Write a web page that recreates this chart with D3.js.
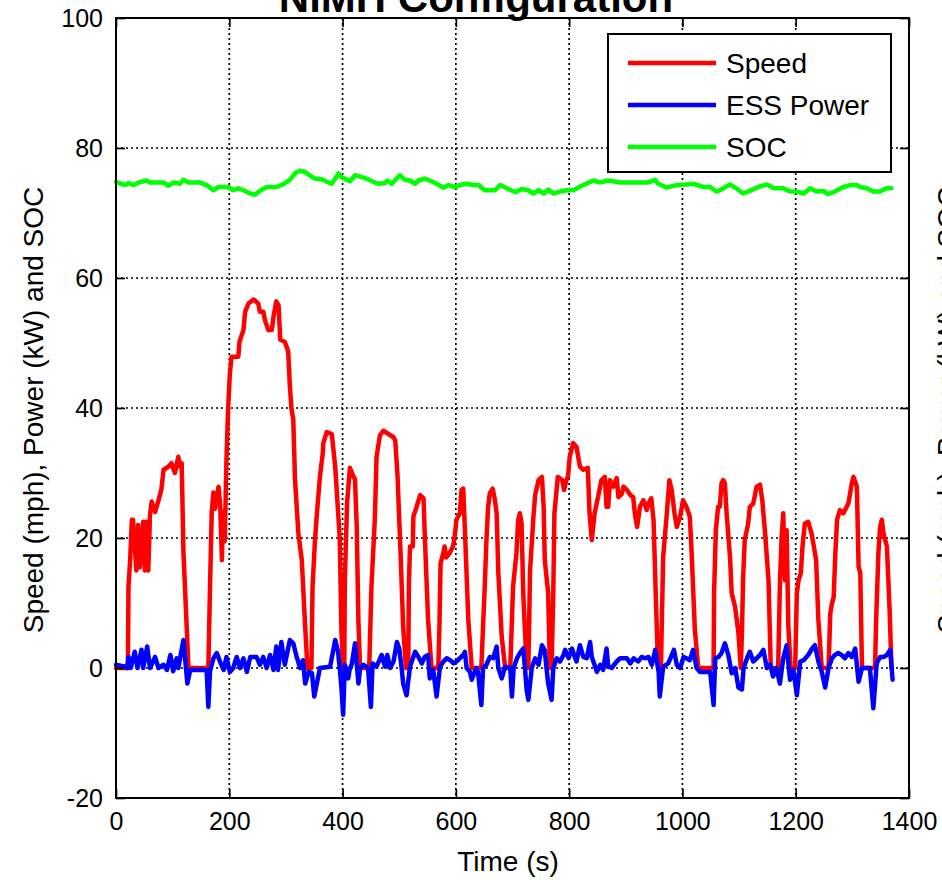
<!DOCTYPE html>
<html>
<head>
<meta charset="utf-8">
<script src="https://cdn.jsdelivr.net/npm/d3@7"></script>
<style>
  html, body { margin: 0; padding: 0; background: #fff; }
  svg { display: block; }
  text { font-family: "Liberation Sans", Arial, sans-serif; fill: #000; }
</style>
</head>
<body>
<svg id="chart" width="942" height="880"></svg>
<script>
// ---------- DATA ----------
const chartTitle = "NiMH Configuration";
const xLabel = "Time (s)";
const yLabel = "Speed (mph),  Power (kW) and SOC";
const seriesNames = ["Speed", "ESS Power", "SOC"];
const seriesColors = ["#ff0000", "#0000ff", "#00ff00"];
const xTicks = [0, 200, 400, 600, 800, 1000, 1200, 1400];
const yTicks = [-20, 0, 20, 40, 60, 80, 100];

const speedTime = [0,21,22,25,28,30,36,39,42,48,51,54,57,60,63,69,75,80,84,93,98,104,110,113,116,119,125,128,163,166,169,172,175,181,184,187,189,192,195,198,201,204,216,218,225,228,234,243,251,254,260,263,269,275,278,283,287,290,298,304,307,310,313,316,322,328,334,338,345,347,351,354,360,365,366,372,381,387,395,398,401,403,404,408,413,419,422,425,428,431,447,451,457,460,466,472,490,493,497,502,507,512,516,517,519,524,525,530,537,543,545,551,557,569,571,573,578,580,583,589,595,598,601,607,610,613,616,622,628,645,648,651,654,657,660,665,669,672,675,681,687,696,698,701,707,710,713,716,719,725,728,731,737,740,746,752,755,757,763,766,769,772,774,780,788,791,795,798,801,807,813,819,825,833,836,840,845,851,857,863,866,869,872,878,884,887,893,896,902,908,913,916,920,925,931,937,940,945,949,953,957,962,966,972,977,981,986,990,996,1001,1007,1013,1016,1022,1028,1055,1056,1059,1063,1066,1069,1072,1075,1078,1084,1087,1093,1099,1103,1105,1107,1110,1116,1119,1125,1131,1137,1141,1146,1152,1156,1169,1172,1175,1178,1181,1184,1187,1191,1199,1202,1205,1209,1212,1216,1222,1228,1231,1236,1240,1246,1258,1261,1264,1267,1270,1273,1278,1284,1287,1293,1299,1302,1308,1311,1314,1317,1340,1342,1346,1349,1352,1355,1361,1366,1369];
const speedValue = [0,0,12.5,16.6,22.8,22.8,15,22,15.5,22.5,15,22.5,15,23.5,25.6,24,25.8,27.4,30.5,31,31.5,30,32.5,31,31.5,18,5.9,0,0,12.5,24,27,24.5,27.9,25,16.6,24,19.5,32,40,45.3,47.9,47.9,50.2,52,54.8,56.1,56.7,56.1,54.8,54.8,53.5,52,52,54,56.4,55.8,50.5,50.2,48.7,43.3,39.7,38.2,29,20.7,16.6,6.3,0,0,12.5,19.2,23,29.4,33,34.6,36.3,36,31,20,5.7,0,0,13.5,25.4,30.8,29.5,29,21.8,7,0,0,12.5,23,32.5,35.8,36.5,35.5,35,29.6,18.6,6.3,0,0,12.5,18.7,18.7,23.3,24.6,26.6,26.1,20.7,7.4,0,0,6.4,16.1,17.7,18.7,17,17.7,18.7,20.2,22.8,23.8,27.4,27.6,21.2,7.4,0,0,6.4,12.5,19.7,24.8,26.9,27.6,25.8,23.8,14.6,4.8,0,0,4.9,12.5,17.7,22.8,23.8,22.3,11.5,0,0,15,23.3,26.6,28.9,29.4,24.8,16.6,11.5,0,0,11.5,23.8,29.4,28.9,27.4,28.9,29.4,32.5,34.6,34,31,30.5,30.8,23.8,19.7,23.8,26.3,28.9,29.4,24.8,24.8,28.9,27.9,29.2,26.3,26.8,27.9,27.4,26.6,26.3,23.8,21.7,24.8,25.8,24.3,25.3,26.1,22.8,11,0,0,17.1,23.3,28.9,27.4,23.8,21.7,23.3,25.8,24.8,23.3,18.2,5.8,0,0,12,21.2,24.8,24.8,28.4,28.9,28.4,23.8,17.1,11.5,9.4,5.3,0,5.3,13.5,19.7,22.2,24.8,25.3,27.9,28.2,25.8,20.7,13.5,0,0,12.5,20,23.8,13.5,21.2,6.4,0,0,11.5,13.5,14.6,18.7,22.2,22.5,20.7,19.2,16.6,7.4,0,0,8.4,9.9,10.9,17.7,22.8,24.3,23.8,24.3,25.3,28.4,29.4,27.9,15.6,14.6,0,0,7.4,17.7,21.7,22.8,20.7,18.7,8.4,0];

const powerTime = [0,10,18,20,22,26,33,38,45,48,55,60,69,75,84,90,96,101,107,110,119,123,126,131,160,163,166,172,178,184,190,195,201,207,213,219,225,231,237,243,248,254,260,266,272,278,283,286,292,298,307,313,319,325,330,334,340,346,350,360,378,387,392,395,398,401,404,410,413,416,422,428,431,437,445,450,453,460,469,475,479,484,490,496,500,504,507,513,519,528,534,540,545,551,554,560,566,572,578,584,590,596,601,607,613,616,619,625,628,636,639,645,648,654,660,666,672,675,681,687,696,699,702,708,713,719,722,725,728,734,740,746,752,757,760,763,769,772,778,784,790,793,799,805,810,813,819,825,831,837,840,846,849,855,860,866,869,875,884,890,896,902,908,914,922,928,934,940,946,952,958,960,966,975,985,990,996,1002,1007,1013,1019,1025,1031,1037,1049,1055,1058,1064,1069,1075,1081,1087,1093,1099,1105,1108,1114,1119,1125,1131,1137,1143,1149,1155,1160,1166,1172,1178,1184,1190,1196,1202,1208,1214,1222,1229,1234,1240,1246,1252,1258,1264,1269,1275,1281,1287,1293,1299,1305,1311,1317,1323,1331,1337,1343,1349,1355,1361,1367,1371];
const powerValue = [0.5,0.3,0.2,0,1.7,0,2.5,0,2.8,0,3.3,0,1.7,0,0.5,-0.3,2,-0.5,1.5,0,4.3,0.5,-2.4,-0.3,-0.3,-6,-0.5,1.5,2.3,0.9,-0.3,1.7,-0.6,0,1.7,0,1.5,-0.6,1.7,1.7,1.7,0.5,1.7,0,2,-0.3,3.3,-0.3,4,0.5,4.3,3.8,1.7,0,1.2,-2.4,-0.6,-0.8,-4.4,0,0.2,4.3,2.5,0,-3,-7.2,0.5,-1.6,0,0.5,3.8,-2.4,0,0.5,0,-6,0.7,0.2,2,0.2,2,0,1,4,3,0.2,-2.4,-4.2,0.2,2.5,1.7,0.7,1.7,2,-1.6,-0.3,-4.4,0.2,1,1.5,1.2,0.7,1,1.5,2,2.5,0,-0.6,-1.8,0,-0.6,-5.7,0,0.5,1.7,1.5,3.3,0,-1.6,0.2,0,-4.4,0,1.5,2.3,3,0,-3.4,-4.9,0,1.5,0.5,3.5,2.7,0,-2.4,-4.9,0,1.5,1,2,2.8,1.5,3,1.7,1,3.5,1.7,1.5,4,1.7,0.2,-0.6,0.5,-0.3,3,0.2,0,1,1.5,1.5,1.5,0.7,1.5,1,1.7,1.5,1.7,0.5,2.8,-0.6,-4.4,0.2,0.7,2.8,0.5,0,1.7,1.5,1.2,2.8,0,-0.6,-0.6,-0.6,-5.7,1.5,1.7,2.3,3.8,2,-0.8,0,-3,-3.3,0,1.5,2.5,1,1.5,2,2.8,0,0.5,-1.3,0,-2.4,1.5,3.5,-1.8,-0.3,-4.2,1,1.2,2,3,3.5,1,-0.6,-3,0,1.5,2,2.3,2,1.5,2.3,1.7,3,-2.1,0,0,0,-6.2,0.7,1.7,1.7,2,2.8,-1.8];

const socTime = [0,16,22,31,40,54,60,84,92,102,113,119,128,148,160,172,181,198,207,216,225,234,245,254,266,283,295,307,316,325,334,342,351,363,372,381,393,398,413,422,431,442,454,463,475,479,487,501,510,519,528,534,545,554,566,578,587,598,607,619,631,640,651,669,678,690,705,716,728,737,746,755,763,772,784,796,807,825,843,854,869,890,907,925,940,952,957,972,989,1007,1019,1037,1049,1060,1066,1084,1095,1107,1119,1134,1149,1161,1178,1190,1202,1214,1225,1237,1249,1257,1269,1284,1296,1308,1313,1325,1337,1349,1360,1369];
const socValue = [74.8,74.3,74.6,74.3,74.7,75,74.7,74.7,74.2,74.7,74.5,75.1,74.7,74.7,74.3,73.5,74,74,73.5,73.8,73.5,73.1,72.8,73.4,74,74,74.4,75.1,76.1,76.5,76.3,75.8,75.3,75.2,74.8,74.5,76.1,75.5,74.9,75.8,75.6,75.3,74.8,74.5,74.6,75,74.5,75.8,75.1,75,74.5,75,75.3,75,74.5,73.9,74.3,74,74.3,74.5,74.3,74.3,73.5,73.5,74.3,73.8,73.2,73.7,73.5,73,73.5,73,73.6,73,73.3,73.5,73.5,74.3,75,74.7,75,74.7,74.7,74.7,74.7,75.1,74.5,73.9,74.3,74.4,74.5,74,74,73.3,73.5,74.4,73.8,73,73.4,74,74.4,73.8,73.8,73.3,73.3,73,73.8,73.3,73.4,72.9,73.3,74,74.3,74.3,74,73.8,73.3,73.3,73.8,73.8];

// ---------- CHART ----------
const svg = d3.select("#chart");
const pLeft = 116, pRight = 909, pTop = 18, pBottom = 798;
const x = d3.scaleLinear().domain([0, 1400]).range([pLeft, pRight]);
const y = d3.scaleLinear().domain([-20, 100]).range([pBottom, pTop]);

// grid
const grid = svg.append("g");
grid.selectAll("line.vg").data(xTicks.slice(1, -1)).enter().append("line")
  .attr("x1", d => x(d)).attr("x2", d => x(d)).attr("y1", pTop).attr("y2", pBottom)
  .attr("stroke", "#000").attr("stroke-width", 1.7).attr("stroke-dasharray", "2,3");
grid.selectAll("line.hg").data(yTicks.slice(1, -1)).enter().append("line")
  .attr("x1", pLeft).attr("x2", pRight).attr("y1", d => y(d)).attr("y2", d => y(d))
  .attr("stroke", "#000").attr("stroke-width", 1.7).attr("stroke-dasharray", "2,3");

// series
const mk = (t, v) => t.map((d, i) => [d, v[i]]).filter(d => d[1] !== undefined);
const data = [mk(speedTime, speedValue), mk(powerTime, powerValue), mk(socTime, socValue)];
const line = d3.line().x(d => x(d[0])).y(d => y(d[1]));
data.forEach((ser, i) => {
  svg.append("path").datum(ser).attr("d", line)
    .attr("fill", "none").attr("stroke", seriesColors[i])
    .attr("stroke-width", 4.5).attr("stroke-linejoin", "round").attr("stroke-linecap", "round");
});

// axes
const fs = 25;
const fmt = d => String(d);
const ax = svg.append("g").attr("transform", `translate(0,${pBottom})`)
  .call(d3.axisBottom(x).tickValues(xTicks).tickSize(-9).tickPadding(14).tickFormat(fmt));
const ay = svg.append("g").attr("transform", `translate(${pLeft},0)`)
  .call(d3.axisLeft(y).tickValues(yTicks).tickSize(-9).tickPadding(13).tickFormat(fmt));
const at = svg.append("g").attr("transform", `translate(0,${pTop})`)
  .call(d3.axisTop(x).tickValues(xTicks).tickSize(-9).tickFormat(""));
const ar = svg.append("g").attr("transform", `translate(${pRight},0)`)
  .call(d3.axisRight(y).tickValues(yTicks).tickSize(-9).tickFormat(""));
[ax, ay, at, ar].forEach(g => {
  g.select(".domain").remove();
  g.selectAll(".tick line").attr("stroke", "#000").attr("stroke-width", 1.7);
  g.selectAll("text").style("font-size", fs + "px").style("font-family", "'Liberation Sans', Arial, sans-serif").attr("fill", "#000");
});
svg.append("rect").attr("x", pLeft).attr("y", pTop).attr("width", pRight - pLeft).attr("height", pBottom - pTop)
  .attr("fill", "none").attr("stroke", "#000").attr("stroke-width", 2);

// labels
svg.append("text").attr("x", 508).attr("y", 871).attr("text-anchor", "middle")
  .style("font-size", "28px").text(xLabel);
svg.append("text").attr("transform", "translate(43,410) rotate(-90)").attr("text-anchor", "middle")
  .style("font-size", "28px").text(yLabel);
// label of the neighbouring panel, cut off at the right edge as in the source image
svg.append("text").attr("transform", "translate(957,410) rotate(-90)").attr("text-anchor", "middle")
  .style("font-size", "28px").text(yLabel);
svg.append("text").attr("x", 476).attr("y", 12).attr("text-anchor", "middle")
  .style("font-size", "42px").style("font-weight", "bold").text(chartTitle);

// legend
const lg = svg.append("g");
lg.append("rect").attr("x", 608).attr("y", 34).attr("width", 283).attr("height", 138)
  .attr("fill", "#fff").attr("stroke", "#000").attr("stroke-width", 2);
seriesNames.forEach((n, i) => {
  const cy = 63 + i * 42;
  lg.append("line").attr("x1", 628).attr("x2", 716).attr("y1", cy).attr("y2", cy)
    .attr("stroke", seriesColors[i]).attr("stroke-width", 4.5);
  lg.append("text").attr("x", 726).attr("y", cy + 10).style("font-size", "28px").text(n);
});
</script>
</body>
</html>
